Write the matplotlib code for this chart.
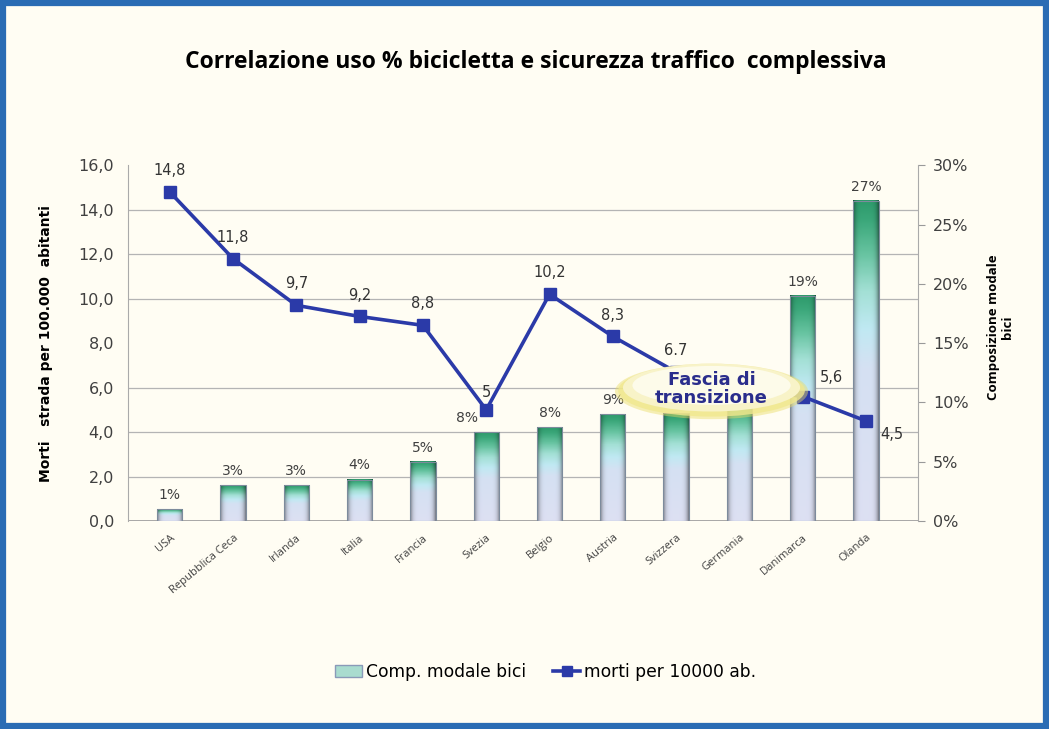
import numpy as np
import matplotlib
matplotlib.use("Agg")
import matplotlib.pyplot as plt
from matplotlib.patches import Ellipse, Rectangle, Patch
from matplotlib.lines import Line2D
from matplotlib.colors import LinearSegmentedColormap

# ------------------------------------------------------------
# Data
# ------------------------------------------------------------
paesi = ["USA", "Repubblica Ceca", "Irlanda", "Italia", "Francia", "Svezia",
         "Belgio", "Austria", "Svizzera", "Germania", "Danimarca", "Olanda"]
quota_bici = [1, 3, 3, 3.5, 5, 7.5, 7.9, 9, 9.1, 10, 19, 27]          # %
quota_labels = ["1%", "3%", "3%", "4%", "5%", "8%", "8%", "9%", "", "", "19%", "27%"]
morti = [14.8, 11.8, 9.7, 9.2, 8.8, 5.0, 10.2, 8.3, 6.7, 6.0, 5.6, 4.5]
morti_labels = ["14,8", "11,8", "9,7", "9,2", "8,8", "5", "10,2", "8,3", "6.7", "", "5,6", "4,5"]
left_ticks = [0, 2, 4, 6, 8, 10, 12, 14, 16]
right_ticks = [0, 5, 10, 15, 20, 25, 30]

BG = "#fffdf3"
NAVY = "#2b3aa8"
TXT = "#404040"

fig = plt.figure(figsize=(10.49, 7.29), dpi=100, facecolor=BG)

# blue frame
fig.patches.append(Rectangle((0.003, 0.004), 0.994, 0.992, transform=fig.transFigure,
                             fill=False, edgecolor="#2a6cb4", linewidth=4.5))

ax = fig.add_axes([0.122, 0.2853, 0.753, 0.488])
ax.set_facecolor("none")
x = np.arange(len(paesi))
xlim = (-0.66, len(paesi) - 1 + 0.82)

# grid lines follow the left axis (0..16 mapped onto 0..30%)
ax.set_yticks([t * 30 / 16 for t in left_ticks], minor=True)
ax.grid(True, which="minor", axis="y", color="#b4b4b4", linewidth=0.9, zorder=0)
for s in ["top", "bottom", "left"]:
    ax.spines[s].set_visible(False)
ax.spines["right"].set_color("#aaaaaa")
ax.axhline(0, color="#999999", linewidth=1.2, zorder=1)

# gradient bars
cmap_v = LinearSegmentedColormap.from_list(
    "bar", [(0, "#dde0f3"), (0.48, "#d5e1f3"), (0.6, "#c0e9f3"),
            (0.72, "#a3e0d5"), (0.84, "#66c3a0"), (0.94, "#3ca87b"), (1, "#2e9b6c")])
vert = np.linspace(0, 1, 100)[:, None]
horiz = np.linspace(-1, 1, 40)[None, :]
bw = 0.40
for xi, v, lab in zip(x, quota_bici, quota_labels):
    rgba = cmap_v(np.repeat(vert, 40, axis=1))
    shade = 1 - 0.45 * np.abs(horiz) ** 5
    rgba[..., :3] *= shade[..., None]
    ax.imshow(rgba, extent=[xi - bw / 2, xi + bw / 2, 0, v], origin="lower",
              aspect="auto", zorder=2, interpolation="bilinear")
    ax.add_patch(Rectangle((xi - bw / 2, 0), bw, v, fill=False, edgecolor="#7d8b9c",
                           linewidth=0.8, zorder=2.1))
    dx = -0.3 if lab == "8%" and v < 7.7 else 0
    ax.text(xi + dx, v + 0.6, lab, ha="center", va="bottom", fontsize=10, color=TXT, zorder=3)
ax.set_xlim(xlim)
ax.set_ylim(0, 30)

ax.set_xticks(x)
ax.set_xticklabels(paesi, rotation=40, ha="right", rotation_mode="anchor",
                   fontsize=8, color=TXT, family="Open Sans")
ax.tick_params(axis="x", length=0, pad=8)

ax.text(1.105, 0.545, "Composizione modale\nbici", transform=ax.transAxes, rotation=90,
        ha="center", va="center", fontsize=9.5, fontweight="bold", family="Open Sans",
        linespacing=1.1)

# line on the left axis
axl = ax.twinx()
axl.set_ylim(0, 16)
axl.set_xlim(xlim)
axl.yaxis.tick_left()
axl.set_yticks(left_ticks)
axl.set_yticklabels([f"{t:.1f}".replace(".", ",") for t in left_ticks], fontsize=11.5, color=TXT)
axl.tick_params(axis="y", length=0, pad=10)
for s in ["top", "bottom", "right"]:
    axl.spines[s].set_visible(False)
axl.spines["left"].set_color("#aaaaaa")
axl.plot(x, morti, color=NAVY, linewidth=2.6, marker="s", markersize=8, zorder=4)

# right axis ticks (twinx resets them to the left)
ax.yaxis.tick_right()
ax.set_yticks(right_ticks)
ax.set_yticklabels([f"{t}%" for t in right_ticks], fontsize=11.5, color=TXT)
ax.tick_params(axis="y", which="major", length=5, color="#999999", pad=6)
ax.tick_params(axis="y", which="minor", length=0)

offsets = {5: (0, 7), 10: (12, 8), 11: (10, -4), 8: (0, 10)}
for i, (xi, m, lab) in enumerate(zip(x, morti, morti_labels)):
    if not lab:
        continue
    dx, dy = offsets.get(i, (0, 10))
    axl.annotate(lab, (xi, m), xytext=(dx, dy), textcoords="offset points",
                 ha="center" if dx == 0 else "left", va="bottom" if dy > 0 else "top",
                 fontsize=10.5, color="#333333", zorder=5)

axl.set_ylabel("Morti   strada per 100.000  abitanti", fontsize=10, fontweight="bold",
               labelpad=18)
axl.yaxis.set_label_position("left")

# "Fascia di transizione" glow ellipse
cx, cy = 8.56, 5.95
axl.add_patch(Ellipse((cx, cy - 0.12), 3.05, 2.5, facecolor="#ebdd66", edgecolor="none",
                      alpha=0.45, zorder=6))
axl.add_patch(Ellipse((cx, cy - 0.08), 2.95, 2.35, facecolor="#f1e88e", edgecolor="none",
                      alpha=0.8, zorder=6.1))
axl.add_patch(Ellipse((cx, cy + 0.05), 2.8, 2.15, facecolor="#f8f3c8", edgecolor="none",
                      alpha=1.0, zorder=6.2))
axl.add_patch(Ellipse((cx, cy + 0.15), 2.5, 1.75, facecolor="#fdfbea", edgecolor="none",
                      alpha=1.0, zorder=6.3))
axl.text(cx, cy, "Fascia di\ntransizione", ha="center", va="center", fontsize=13,
         fontweight="bold", color="#2a2d8c", zorder=7, linespacing=1.0)

fig.text(0.511, 0.915, "Correlazione uso % bicicletta e sicurezza traffico  complessiva",
         ha="center", va="center", fontsize=16.5, fontweight="bold", family="Open Sans")

handles = [Patch(facecolor="#a9dccf", edgecolor="#8a9ab8", linewidth=1),
           Line2D([0], [0], color=NAVY, linewidth=2.6, marker="s", markersize=7)]
fig.legend(handles, ["Comp. modale bici", "morti per 10000 ab."], loc="center",
           bbox_to_anchor=(0.52, 0.078), ncol=2, frameon=False, fontsize=12.3,
           handlelength=1.6, handletextpad=0.2, columnspacing=1.6)

fig.savefig("out.png", dpi=100, facecolor=BG)
